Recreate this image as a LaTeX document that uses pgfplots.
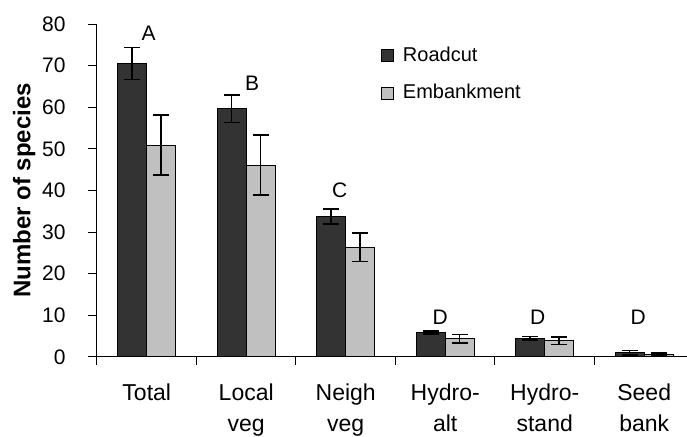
\documentclass[border=0pt]{standalone}
\usepackage{fontspec}
\setmainfont{Liberation Sans}
\usepackage{pgfplots}
\usepackage{pgfplotstable}
\pgfplotsset{compat=1.18}
\definecolor{darkbar}{HTML}{333333}
\definecolor{lightbar}{HTML}{C0C0C0}
\pgfplotstableread{
x y e
0 70.5 3.8
1 59.6 3.3
2 33.7 1.8
3 5.9 0.4
4 4.5 0.4
5 1.0 0.5
}\roadcut
\pgfplotstableread{
x y e
0 50.9 7.2
1 46.1 7.2
2 26.4 3.4
3 4.4 1.0
4 3.9 0.9
5 0.6 0.3
}\embank
\begin{document}
\begin{tikzpicture}
\begin{axis}[
  at={(0,0)}, anchor=south west,
  scale only axis, width=295pt, height=166.5pt,
  xmin=-0.5, xmax=5.43, ymin=0, ymax=80,
  axis lines*=left,
  axis line style={line width=0.5pt, black},
  /pgf/number format/assume math mode=true,
  ybar, bar width=14.5pt,
  xtick={0,...,5},
  xticklabels={Total, Local\\veg, Neigh\\veg, Hydro-\\alt, Hydro-\\stand, Seed\\bank},
  xticklabel style={align=center, font=\fontsize{11.5}{15.5}\selectfont, anchor=north, inner sep=0pt, yshift=-8.5pt},
  major x tick style={draw=none},
  minor xtick={-0.5,0.5,1.5,2.5,3.5,4.5},
  minor tick length=4pt,
  major tick length=4.5pt,
  tick align=outside,
  tick style={black, line width=0.5pt},
  ytick={0,10,...,80},
  yticklabel style={font=\fontsize{10.5}{12}\selectfont, anchor=east, inner sep=0pt, xshift=-11pt},
  ylabel={Number of species},
  ylabel style={font=\fontsize{12}{14}\selectfont\bfseries, at={([xshift=-42.2pt]axis description cs:0,0.5)}, anchor=north, inner sep=0pt},
  legend cell align=left,
  legend style={draw=none, fill=none, at={(axis cs:2.35,74.6)}, anchor=north west, font=\fontsize{10}{12}\selectfont, row sep=10pt, column sep=4.5pt, inner sep=0pt, nodes={inner sep=0pt}},
  legend image code/.code={\draw[#1, line width=0.5pt] (0pt,-3pt) rectangle (6pt,3pt);},
  clip=false,
]
\addplot[fill=darkbar, draw=black, line width=0.5pt, bar shift=-7.25pt,
  error bars/.cd, y dir=both, y explicit,
  error bar style={line width=0.75pt, black},
  error mark options={rotate=90, mark size=4pt, line width=0.75pt, black}]
  table[x=x, y=y, y error=e] {\roadcut};
\addplot[fill=lightbar, draw=black, line width=0.5pt, bar shift=7.25pt,
  error bars/.cd, y dir=both, y explicit,
  error bar style={line width=0.75pt, black},
  error mark options={rotate=90, mark size=4pt, line width=0.75pt, black}]
  table[x=x, y=y, y error=e] {\embank};
\legend{Roadcut, Embankment}
\node[font=\fontsize{10.5}{12}\selectfont] at (axis cs:0.02,77.7) {A};
\node[font=\fontsize{10.5}{12}\selectfont] at (axis cs:1.06,65.7) {B};
\node[font=\fontsize{10.5}{12}\selectfont] at (axis cs:1.94,40.1) {C};
\node[font=\fontsize{10.5}{12}\selectfont] at (axis cs:2.95,9.5) {D};
\node[font=\fontsize{10.5}{12}\selectfont] at (axis cs:3.93,9.5) {D};
\node[font=\fontsize{10.5}{12}\selectfont] at (axis cs:4.94,9.5) {D};
\end{axis}
\pgfresetboundingbox
\path (-48.5pt,-40pt) rectangle (295pt,178.5pt);
\end{tikzpicture}
\end{document}
